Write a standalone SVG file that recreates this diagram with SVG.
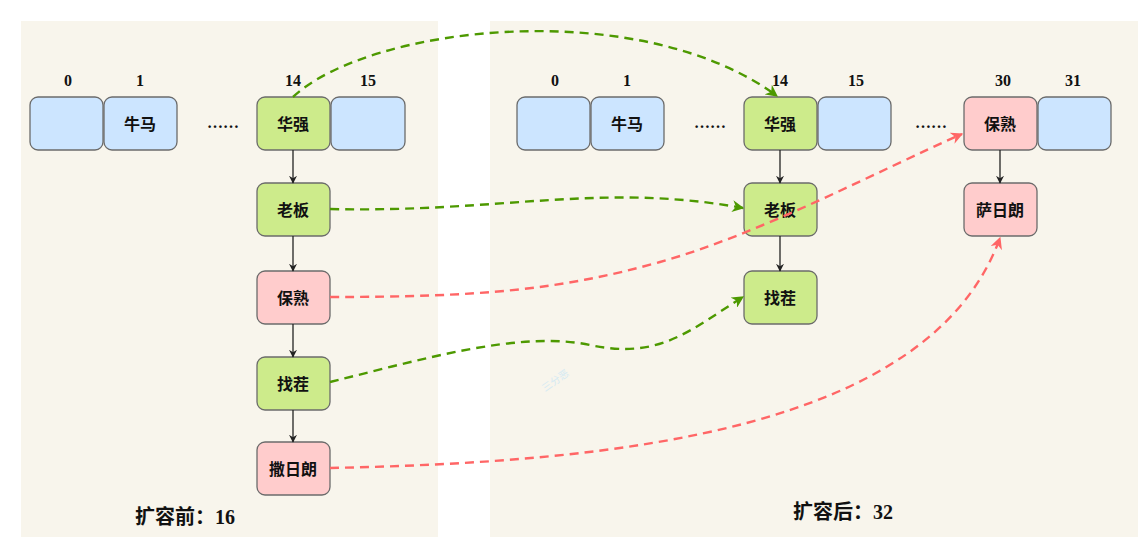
<svg xmlns="http://www.w3.org/2000/svg" width="1138" height="553" viewBox="0 0 1138 553">
<style>
.panel{fill:#F8F5EC}
.box{stroke:#6B6B6B;stroke-width:1.3}
.blue{fill:#CCE5FF}
.green{fill:#CDEB8B}
.pink{fill:#FFCCCC}
.t{font-family:"Liberation Serif","Noto Sans CJK SC",serif;font-size:16px;font-weight:bold;fill:#111;text-anchor:middle;dominant-baseline:central}
.idx{font-family:"Liberation Serif","Noto Sans CJK SC",serif;font-size:16px;font-weight:bold;fill:#111;text-anchor:middle}
.cap{font-family:"Liberation Serif","Noto Sans CJK SC",serif;font-size:20px;font-weight:bold;fill:#111;text-anchor:middle}
.solid{fill:none;stroke:#222;stroke-width:1.3;marker-end:url(#ab)}
.g{fill:none;stroke:#4D9900;stroke-width:2.4;stroke-dasharray:9 6;marker-end:url(#ag)}
.r{fill:none;stroke:#FF6666;stroke-width:2.4;stroke-dasharray:9 6;marker-end:url(#ar)}
</style>
<defs>
<marker id="ab" viewBox="0 0 10 10" refX="9" refY="5" markerWidth="8" markerHeight="8" markerUnits="userSpaceOnUse" orient="auto"><path d="M0,0 L10,5 L0,10 L3,5 Z" fill="#222"/></marker>
<marker id="ag" viewBox="0 0 10 10" refX="9" refY="5" markerWidth="12" markerHeight="12" markerUnits="userSpaceOnUse" orient="auto"><path d="M0,0 L10,5 L0,10 L3,5 Z" fill="#4D9900"/></marker>
<marker id="ar" viewBox="0 0 10 10" refX="9" refY="5" markerWidth="12" markerHeight="12" markerUnits="userSpaceOnUse" orient="auto"><path d="M0,0 L10,5 L0,10 L3,5 Z" fill="#FF6666"/></marker>
</defs>
<rect width="1138" height="553" fill="#fff"/>
<rect class="panel" x="21" y="21" width="417" height="516"/>
<rect class="panel" x="490" y="21" width="648" height="516"/>

<text class="idx" x="68" y="86">0</text>
<text class="idx" x="140" y="86">1</text>
<text class="idx" x="293" y="86">14</text>
<text class="idx" x="368" y="86">15</text>
<text class="t" x="223" y="122">……</text>
<text class="idx" x="555" y="86">0</text>
<text class="idx" x="627" y="86">1</text>
<text class="idx" x="780" y="86">14</text>
<text class="idx" x="856" y="86">15</text>
<text class="idx" x="1003" y="86">30</text>
<text class="idx" x="1073" y="86">31</text>
<text class="t" x="710" y="122">……</text>
<text class="t" x="931" y="122">……</text>

<g id="L0"><rect class="box blue" x="30" y="97" width="73" height="53" rx="8"/></g>
<g id="L1"><rect class="box blue" x="104" y="97" width="73" height="53" rx="8"/><text class="t" x="140" y="124">牛马</text></g>
<g id="L14"><rect class="box green" x="257" y="97" width="73" height="53" rx="8"/><text class="t" x="293" y="124">华强</text></g>
<g id="L15"><rect class="box blue" x="331" y="97" width="74" height="53" rx="8"/></g>
<g id="Llaoban"><rect class="box green" x="257" y="183" width="73" height="53" rx="8"/><text class="t" x="293" y="210">老板</text></g>
<g id="Lbaoshu"><rect class="box pink" x="257" y="271" width="73" height="53" rx="8"/><text class="t" x="293" y="298">保熟</text></g>
<g id="Lzhaocha"><rect class="box green" x="257" y="357" width="73" height="53" rx="8"/><text class="t" x="293" y="384">找茬</text></g>
<g id="Lsariland"><rect class="box pink" x="257" y="442" width="73" height="53" rx="8"/><text class="t" x="293" y="469">撒日朗</text></g>

<g id="R0"><rect class="box blue" x="517" y="97" width="73" height="53" rx="8"/></g>
<g id="R1"><rect class="box blue" x="591" y="97" width="73" height="53" rx="8"/><text class="t" x="627" y="124">牛马</text></g>
<g id="R14"><rect class="box green" x="744" y="97" width="73" height="53" rx="8"/><text class="t" x="780" y="124">华强</text></g>
<g id="R15"><rect class="box blue" x="818" y="97" width="73" height="53" rx="8"/></g>
<g id="R30"><rect class="box pink" x="964" y="97" width="73" height="53" rx="8"/><text class="t" x="1000" y="124">保熟</text></g>
<g id="R31"><rect class="box blue" x="1038" y="97" width="73" height="53" rx="8"/></g>
<g id="Rlaoban"><rect class="box green" x="744" y="183" width="73" height="53" rx="8"/><text class="t" x="780" y="210">老板</text></g>
<g id="Rzhaocha"><rect class="box green" x="744" y="271" width="73" height="53" rx="8"/><text class="t" x="780" y="298">找茬</text></g>
<g id="Rsariland"><rect class="box pink" x="964" y="183" width="73" height="53" rx="8"/><text class="t" x="1000" y="210">萨日朗</text></g>

<text class="cap" x="185" y="524">扩容前：16</text>
<text class="cap" x="843" y="519">扩容后：32</text>
<text x="545" y="392" transform="rotate(-35 545 392)" style="font-family:'Noto Sans CJK SC',sans-serif;font-size:10px;fill:#D5EAF3">三分恶</text>

<g id="connectors">
<path class="solid" d="M293 150 V183"/>
<path class="solid" d="M293 236 V271"/>
<path class="solid" d="M293 324 V357"/>
<path class="solid" d="M293 410 V442"/>
<path class="solid" d="M780 150 V183"/>
<path class="solid" d="M780 236 V271"/>
<path class="solid" d="M1000 150 V183"/>
<path class="g" d="M293 97 C370 25, 640 -5, 777 96"/>
<path class="g" d="M330 209 C500 213, 600 182, 743 208"/>
<path class="r" d="M330 297 C480 297, 560 290, 660 262 S880 170, 962 134"/>
<path class="g" d="M330 382 C420 360, 520 330, 590 345 S690 330, 743 297"/>
<path class="r" d="M330 468 C620 462, 930 430, 1000 238"/>
</g>
</svg>
